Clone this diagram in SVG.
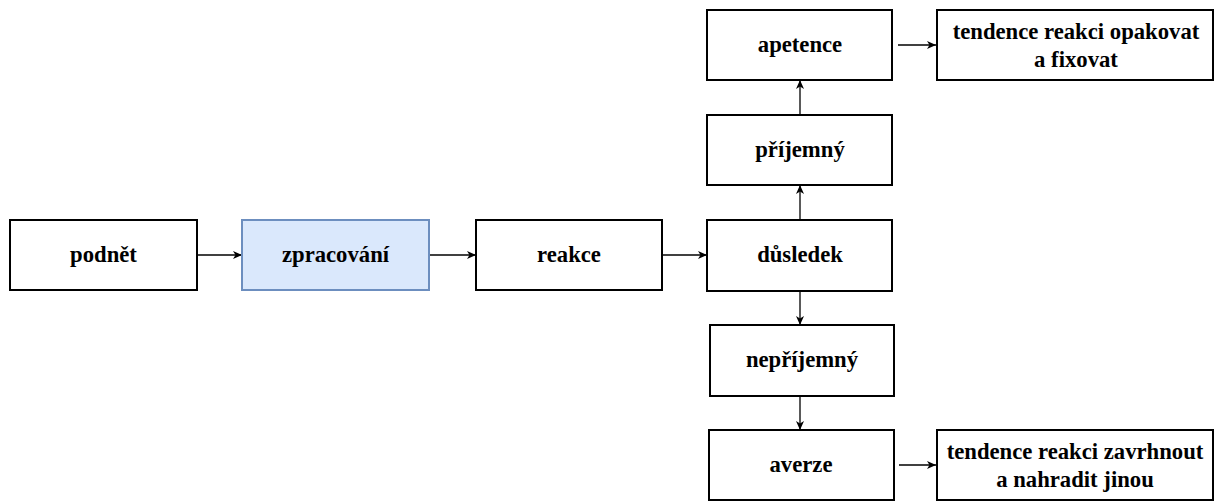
<svg xmlns="http://www.w3.org/2000/svg" width="1216" height="501" viewBox="0 0 1216 501">
<style>
.box{fill:#fff;stroke:#000;stroke-width:2}
.blue{fill:#dae8fc;stroke:#6c8ebf;stroke-width:2}
.t{font-weight:bold;font-size:22.7px;fill:#000;text-anchor:middle}
.c{stroke:#000;stroke-width:1.3;fill:none;marker-end:url(#ah)}
</style>
<defs>
<marker id="ah" markerWidth="10" markerHeight="10" refX="9" refY="5" orient="auto" markerUnits="userSpaceOnUse">
<path d="M0,1 L9,5 L0,9 L2.5,5 Z" fill="#000"/>
</marker>
</defs>
<rect width="1216" height="501" fill="#fff"/>
<g id="connectors">
<line class="c" x1="197" y1="255" x2="242" y2="255"/>
<line class="c" x1="429" y1="255" x2="476" y2="255"/>
<line class="c" x1="662" y1="255" x2="707" y2="255"/>
<line class="c" x1="800" y1="220" x2="800" y2="185"/>
<line class="c" x1="800" y1="115" x2="800" y2="80"/>
<line class="c" x1="898" y1="45" x2="936" y2="45"/>
<line class="c" x1="800" y1="291" x2="800" y2="325"/>
<line class="c" x1="800" y1="396" x2="800" y2="430"/>
<line class="c" x1="899" y1="465" x2="936" y2="465"/>
</g>
<g font-family="'Liberation Serif', 'DejaVu Serif', serif">
<g id="podnet"><rect class="box" x="10" y="220" width="187" height="70"/><text class="t" x="103.5" y="262">podnět</text></g>
<g id="zpracovani"><rect class="blue" x="242" y="220" width="187" height="70"/><text class="t" x="335.5" y="262">zpracování</text></g>
<g id="reakce"><rect class="box" x="476" y="220" width="186" height="70"/><text class="t" x="569" y="262">reakce</text></g>
<g id="dusledek"><rect class="box" x="707" y="220" width="185" height="71"/><text class="t" x="800" y="262">důsledek</text></g>
<g id="prijemny"><rect class="box" x="707" y="115" width="185" height="70"/><text class="t" x="800" y="157">příjemný</text></g>
<g id="apetence"><rect class="box" x="707" y="10" width="185" height="70"/><text class="t" x="800" y="52">apetence</text></g>
<g id="tendence1"><rect class="box" x="937" y="10" width="276" height="70"/><text class="t" x="1076" y="39">tendence reakci opakovat</text><text class="t" x="1076" y="67">a fixovat</text></g>
<g id="neprijemny"><rect class="box" x="710" y="325" width="184" height="71"/><text class="t" x="802" y="367">nepříjemný</text></g>
<g id="averze"><rect class="box" x="709" y="430" width="185" height="70"/><text class="t" x="801" y="472">averze</text></g>
<g id="tendence2"><rect class="box" x="937" y="430" width="276" height="70"/><text class="t" x="1075" y="459">tendence reakci zavrhnout</text><text class="t" x="1075" y="487">a nahradit jinou</text></g>
</g>
</svg>
